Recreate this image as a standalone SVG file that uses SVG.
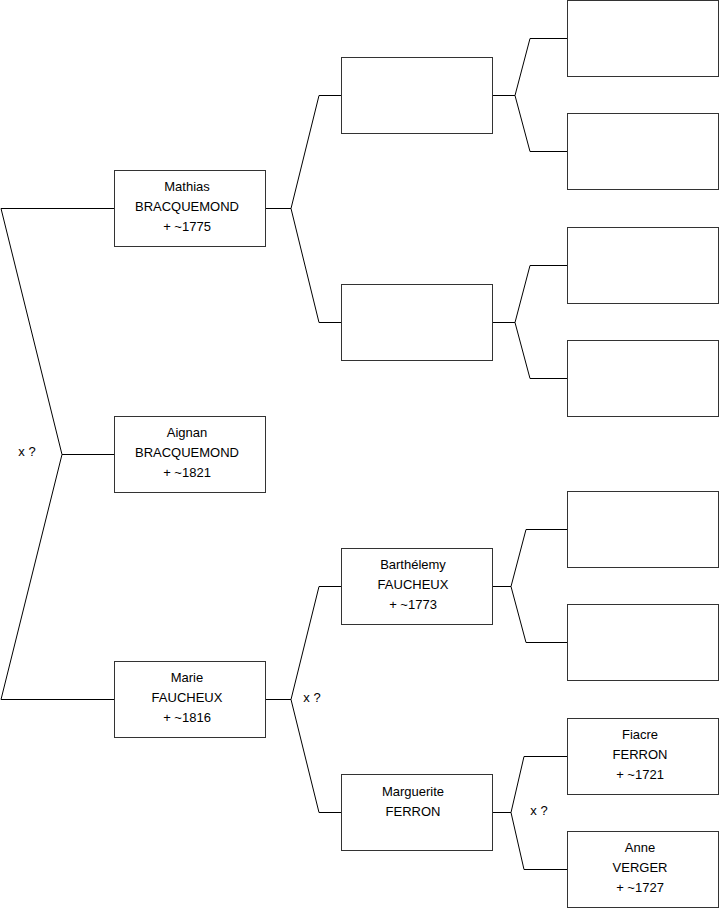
<svg xmlns="http://www.w3.org/2000/svg" width="719" height="908" viewBox="0 0 719 908">
<style>
.box{fill:#fff;stroke:#333;stroke-width:1}
.ln{fill:none;stroke:#000;stroke-width:1}
text{font-family:"Liberation Sans",Arial,sans-serif;font-size:13px;fill:#000;text-anchor:middle}
</style>
<rect width="719" height="908" fill="#fff"/>
<g id="connectors">
<polyline class="ln" points="114.5,208.5 1,208.5 62,454.5 1,699.5 114.5,699.5"/>
<line class="ln" x1="62" y1="454.5" x2="114.5" y2="454.5"/>
<polyline class="ln" points="341.5,95.5 319,95.5 291,208.5 319,322.5 341.5,322.5"/>
<line class="ln" x1="265.5" y1="208.5" x2="291" y2="208.5"/>
<polyline class="ln" points="567.5,38.5 530,38.5 515,95.5 530,151.5 567.5,151.5"/>
<line class="ln" x1="492.5" y1="95.5" x2="515" y2="95.5"/>
<polyline class="ln" points="567.5,265.5 530,265.5 515,322.5 530,378.5 567.5,378.5"/>
<line class="ln" x1="492.5" y1="322.5" x2="515" y2="322.5"/>
<polyline class="ln" points="341.5,586.5 319,586.5 291,699.5 319,812.5 341.5,812.5"/>
<line class="ln" x1="265.5" y1="699.5" x2="291" y2="699.5"/>
<polyline class="ln" points="567.5,529.5 526,529.5 511,586.5 526,642.5 567.5,642.5"/>
<line class="ln" x1="492.5" y1="586.5" x2="511" y2="586.5"/>
<polyline class="ln" points="567.5,756.5 524,756.5 511,812.5 524,869.5 567.5,869.5"/>
<line class="ln" x1="492.5" y1="812.5" x2="511" y2="812.5"/>
<text x="27" y="456">x ?</text>
<text x="312" y="702">x ?</text>
<text x="539" y="815">x ?</text>
</g>
<g id="mathias"><rect class="box" x="114.5" y="170.5" width="151" height="76"/>
<text x="187" y="191">Mathias</text><text x="187" y="211">BRACQUEMOND</text><text x="187" y="231">+ ~1775</text></g>
<g id="aignan"><rect class="box" x="114.5" y="416.5" width="151" height="76"/>
<text x="187" y="437">Aignan</text><text x="187" y="457">BRACQUEMOND</text><text x="187" y="477">+ ~1821</text></g>
<g id="marie"><rect class="box" x="114.5" y="661.5" width="151" height="76"/>
<text x="187" y="682">Marie</text><text x="187" y="702">FAUCHEUX</text><text x="187" y="722">+ ~1816</text></g>
<g id="father-mathias-unknown"><rect class="box" x="341.5" y="57.5" width="151" height="76"/></g>
<g id="mother-mathias-unknown"><rect class="box" x="341.5" y="284.5" width="151" height="76"/></g>
<g id="barthelemy"><rect class="box" x="341.5" y="548.5" width="151" height="76"/>
<text x="413" y="569">Barthélemy</text><text x="413" y="589">FAUCHEUX</text><text x="413" y="609">+ ~1773</text></g>
<g id="marguerite"><rect class="box" x="341.5" y="774.5" width="151" height="76"/>
<text x="413" y="796">Marguerite</text><text x="413" y="816">FERRON</text></g>
<g id="g3-1"><rect class="box" x="567.5" y="0.5" width="151" height="76"/></g>
<g id="g3-2"><rect class="box" x="567.5" y="113.5" width="151" height="76"/></g>
<g id="g3-3"><rect class="box" x="567.5" y="227.5" width="151" height="76"/></g>
<g id="g3-4"><rect class="box" x="567.5" y="340.5" width="151" height="76"/></g>
<g id="g3-5"><rect class="box" x="567.5" y="491.5" width="151" height="76"/></g>
<g id="g3-6"><rect class="box" x="567.5" y="604.5" width="151" height="76"/></g>
<g id="fiacre"><rect class="box" x="567.5" y="718.5" width="151" height="76"/>
<text x="640" y="739">Fiacre</text><text x="640" y="759">FERRON</text><text x="640" y="779">+ ~1721</text></g>
<g id="anne"><rect class="box" x="567.5" y="831.5" width="151" height="76"/>
<text x="640" y="852">Anne</text><text x="640" y="872">VERGER</text><text x="640" y="892">+ ~1727</text></g>
</svg>
